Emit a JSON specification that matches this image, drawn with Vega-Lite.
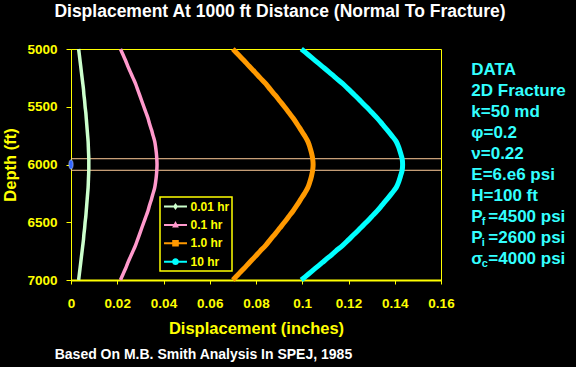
{
"$schema": "https://vega.github.io/schema/vega-lite/v6.json",
"width": 370, "height": 231,
"autosize": {"type": "none"},
"padding": {"left": 71, "top": 49, "right": 135, "bottom": 87},
"background": "#000000",
"title": {"text": "Displacement At 1000 ft Distance (Normal To Fracture)", "color": "#ffffff", "font": "Liberation Sans", "fontSize": 17.5, "fontWeight": "bold", "anchor": "middle", "frame": "group", "dx": 24, "offset": 19},
"config": {
  "view": {"stroke": "#ffff00", "strokeWidth": 1},
  "axis": {"domainColor": "#ffff00", "tickColor": "#ffff00", "labelColor": "#ffff00", "titleColor": "#ffff00", "labelFont": "Liberation Sans", "titleFont": "Liberation Sans", "labelFontWeight": "bold", "titleFontWeight": "bold", "labelFontSize": 13.5, "titleFontSize": 16.5, "grid": false, "tickSize": 4, "labelFlush": false, "labelOverlap": false, "labelBound": false},
  "axisX": {"domainWidth": 2, "labelPadding": 12, "titlePadding": 11},
  "axisY": {"labelPadding": 9, "titlePadding": 8, "tickSize": 5},
  "legend": {"labelColor": "#ffff00", "labelFont": "Liberation Sans", "labelFontWeight": "bold", "labelFontSize": 12, "fillColor": "#000000", "strokeColor": "#ffff00", "strokeWidth": 1.5, "padding": 2.5, "symbolSize": 196, "symbolStrokeWidth": 0, "rowPadding": 5.4, "labelOffset": 8, "symbolOffset": 6, "symbolOpacity": 1}
},
"datasets": {
"curves": [
{"s":"0.01 hr","z":5000,"d":0.0033},{"s":"0.01 hr","z":5050,"d":0.0036},{"s":"0.01 hr","z":5100,"d":0.0039},{"s":"0.01 hr","z":5150,"d":0.0042},{"s":"0.01 hr","z":5200,"d":0.0045},{"s":"0.01 hr","z":5250,"d":0.0048},{"s":"0.01 hr","z":5300,"d":0.0051},{"s":"0.01 hr","z":5350,"d":0.0054},{"s":"0.01 hr","z":5400,"d":0.0056},{"s":"0.01 hr","z":5450,"d":0.0059},{"s":"0.01 hr","z":5500,"d":0.0061},{"s":"0.01 hr","z":5550,"d":0.0064},{"s":"0.01 hr","z":5600,"d":0.0066},{"s":"0.01 hr","z":5650,"d":0.0068},{"s":"0.01 hr","z":5700,"d":0.0070},{"s":"0.01 hr","z":5750,"d":0.0072},{"s":"0.01 hr","z":5800,"d":0.0074},{"s":"0.01 hr","z":5850,"d":0.0075},{"s":"0.01 hr","z":5900,"d":0.0076},{"s":"0.01 hr","z":5950,"d":0.0077},{"s":"0.01 hr","z":6000,"d":0.0077},{"s":"0.01 hr","z":6050,"d":0.0077},{"s":"0.01 hr","z":6100,"d":0.0076},{"s":"0.01 hr","z":6150,"d":0.0075},{"s":"0.01 hr","z":6200,"d":0.0074},{"s":"0.01 hr","z":6250,"d":0.0072},{"s":"0.01 hr","z":6300,"d":0.0070},{"s":"0.01 hr","z":6350,"d":0.0068},{"s":"0.01 hr","z":6400,"d":0.0066},{"s":"0.01 hr","z":6450,"d":0.0064},{"s":"0.01 hr","z":6500,"d":0.0061},{"s":"0.01 hr","z":6550,"d":0.0059},{"s":"0.01 hr","z":6600,"d":0.0056},{"s":"0.01 hr","z":6650,"d":0.0054},{"s":"0.01 hr","z":6700,"d":0.0051},{"s":"0.01 hr","z":6750,"d":0.0048},{"s":"0.01 hr","z":6800,"d":0.0045},{"s":"0.01 hr","z":6850,"d":0.0042},{"s":"0.01 hr","z":6900,"d":0.0039},{"s":"0.01 hr","z":6950,"d":0.0036},{"s":"0.01 hr","z":7000,"d":0.0033},
{"s":"0.1 hr","z":5000,"d":0.0214},{"s":"0.1 hr","z":5050,"d":0.0225},{"s":"0.1 hr","z":5100,"d":0.0236},{"s":"0.1 hr","z":5150,"d":0.0246},{"s":"0.1 hr","z":5200,"d":0.0257},{"s":"0.1 hr","z":5250,"d":0.0268},{"s":"0.1 hr","z":5300,"d":0.0279},{"s":"0.1 hr","z":5350,"d":0.0288},{"s":"0.1 hr","z":5400,"d":0.0297},{"s":"0.1 hr","z":5450,"d":0.0306},{"s":"0.1 hr","z":5500,"d":0.0315},{"s":"0.1 hr","z":5550,"d":0.0324},{"s":"0.1 hr","z":5600,"d":0.0333},{"s":"0.1 hr","z":5650,"d":0.0340},{"s":"0.1 hr","z":5700,"d":0.0348},{"s":"0.1 hr","z":5750,"d":0.0355},{"s":"0.1 hr","z":5800,"d":0.0362},{"s":"0.1 hr","z":5850,"d":0.0366},{"s":"0.1 hr","z":5900,"d":0.0369},{"s":"0.1 hr","z":5950,"d":0.0371},{"s":"0.1 hr","z":6000,"d":0.0372},{"s":"0.1 hr","z":6050,"d":0.0371},{"s":"0.1 hr","z":6100,"d":0.0369},{"s":"0.1 hr","z":6150,"d":0.0366},{"s":"0.1 hr","z":6200,"d":0.0362},{"s":"0.1 hr","z":6250,"d":0.0355},{"s":"0.1 hr","z":6300,"d":0.0348},{"s":"0.1 hr","z":6350,"d":0.0340},{"s":"0.1 hr","z":6400,"d":0.0333},{"s":"0.1 hr","z":6450,"d":0.0324},{"s":"0.1 hr","z":6500,"d":0.0315},{"s":"0.1 hr","z":6550,"d":0.0306},{"s":"0.1 hr","z":6600,"d":0.0297},{"s":"0.1 hr","z":6650,"d":0.0288},{"s":"0.1 hr","z":6700,"d":0.0279},{"s":"0.1 hr","z":6750,"d":0.0268},{"s":"0.1 hr","z":6800,"d":0.0257},{"s":"0.1 hr","z":6850,"d":0.0246},{"s":"0.1 hr","z":6900,"d":0.0236},{"s":"0.1 hr","z":6950,"d":0.0225},{"s":"0.1 hr","z":7000,"d":0.0214},
{"s":"1.0 hr","z":5000,"d":0.0700},{"s":"1.0 hr","z":5050,"d":0.0724},{"s":"1.0 hr","z":5100,"d":0.0748},{"s":"1.0 hr","z":5150,"d":0.0771},{"s":"1.0 hr","z":5200,"d":0.0795},{"s":"1.0 hr","z":5250,"d":0.0818},{"s":"1.0 hr","z":5300,"d":0.0842},{"s":"1.0 hr","z":5350,"d":0.0862},{"s":"1.0 hr","z":5400,"d":0.0883},{"s":"1.0 hr","z":5450,"d":0.0903},{"s":"1.0 hr","z":5500,"d":0.0923},{"s":"1.0 hr","z":5550,"d":0.0942},{"s":"1.0 hr","z":5600,"d":0.0961},{"s":"1.0 hr","z":5650,"d":0.0978},{"s":"1.0 hr","z":5700,"d":0.0994},{"s":"1.0 hr","z":5750,"d":0.1010},{"s":"1.0 hr","z":5800,"d":0.1024},{"s":"1.0 hr","z":5850,"d":0.1033},{"s":"1.0 hr","z":5900,"d":0.1040},{"s":"1.0 hr","z":5950,"d":0.1045},{"s":"1.0 hr","z":6000,"d":0.1047},{"s":"1.0 hr","z":6050,"d":0.1045},{"s":"1.0 hr","z":6100,"d":0.1040},{"s":"1.0 hr","z":6150,"d":0.1033},{"s":"1.0 hr","z":6200,"d":0.1024},{"s":"1.0 hr","z":6250,"d":0.1010},{"s":"1.0 hr","z":6300,"d":0.0994},{"s":"1.0 hr","z":6350,"d":0.0978},{"s":"1.0 hr","z":6400,"d":0.0961},{"s":"1.0 hr","z":6450,"d":0.0942},{"s":"1.0 hr","z":6500,"d":0.0923},{"s":"1.0 hr","z":6550,"d":0.0903},{"s":"1.0 hr","z":6600,"d":0.0883},{"s":"1.0 hr","z":6650,"d":0.0862},{"s":"1.0 hr","z":6700,"d":0.0842},{"s":"1.0 hr","z":6750,"d":0.0818},{"s":"1.0 hr","z":6800,"d":0.0795},{"s":"1.0 hr","z":6850,"d":0.0771},{"s":"1.0 hr","z":6900,"d":0.0748},{"s":"1.0 hr","z":6950,"d":0.0724},{"s":"1.0 hr","z":7000,"d":0.0700},
{"s":"10 hr","z":5000,"d":0.0996},{"s":"10 hr","z":5050,"d":0.1026},{"s":"10 hr","z":5100,"d":0.1056},{"s":"10 hr","z":5150,"d":0.1086},{"s":"10 hr","z":5200,"d":0.1116},{"s":"10 hr","z":5250,"d":0.1145},{"s":"10 hr","z":5300,"d":0.1175},{"s":"10 hr","z":5350,"d":0.1201},{"s":"10 hr","z":5400,"d":0.1227},{"s":"10 hr","z":5450,"d":0.1252},{"s":"10 hr","z":5500,"d":0.1277},{"s":"10 hr","z":5550,"d":0.1301},{"s":"10 hr","z":5600,"d":0.1325},{"s":"10 hr","z":5650,"d":0.1346},{"s":"10 hr","z":5700,"d":0.1367},{"s":"10 hr","z":5750,"d":0.1387},{"s":"10 hr","z":5800,"d":0.1406},{"s":"10 hr","z":5850,"d":0.1417},{"s":"10 hr","z":5900,"d":0.1425},{"s":"10 hr","z":5950,"d":0.1432},{"s":"10 hr","z":6000,"d":0.1434},{"s":"10 hr","z":6050,"d":0.1432},{"s":"10 hr","z":6100,"d":0.1425},{"s":"10 hr","z":6150,"d":0.1417},{"s":"10 hr","z":6200,"d":0.1406},{"s":"10 hr","z":6250,"d":0.1387},{"s":"10 hr","z":6300,"d":0.1367},{"s":"10 hr","z":6350,"d":0.1346},{"s":"10 hr","z":6400,"d":0.1325},{"s":"10 hr","z":6450,"d":0.1301},{"s":"10 hr","z":6500,"d":0.1277},{"s":"10 hr","z":6550,"d":0.1252},{"s":"10 hr","z":6600,"d":0.1227},{"s":"10 hr","z":6650,"d":0.1201},{"s":"10 hr","z":6700,"d":0.1175},{"s":"10 hr","z":6750,"d":0.1145},{"s":"10 hr","z":6800,"d":0.1116},{"s":"10 hr","z":6850,"d":0.1086},{"s":"10 hr","z":6900,"d":0.1056},{"s":"10 hr","z":6950,"d":0.1026},{"s":"10 hr","z":7000,"d":0.0996}
],
"notes": [
{"part":"main","line":0,"text":"DATA"},{"part":"main","line":1,"text":"2D Fracture"},{"part":"main","line":2,"text":"k=50 md"},{"part":"main","line":3,"text":"φ=0.2"},{"part":"main","line":4,"text":"ν=0.22"},{"part":"main","line":5,"text":"E=6.e6 psi"},{"part":"main","line":6,"text":"H=100 ft"},{"part":"main","line":7,"text":"P"},{"part":"main","line":8,"text":"P"},{"part":"main","line":9,"text":"σ"},
{"part":"sub","line":7,"text":"f"},{"part":"sub","line":8,"text":"i"},{"part":"sub","line":9,"text":"c"},
{"part":"rest","line":7,"text":"=4500 psi"},{"part":"rest","line":8,"text":"=2600 psi"},{"part":"rest","line":9,"text":"=4000 psi"}
]
},
"resolve": {"scale": {"y": "independent"}},
"layer": [
{"data": {"values": [{"z": 5950}, {"z": 6050}]},
 "mark": {"type": "rule", "color": "#ffcc99", "strokeWidth": 1},
 "encoding": {"y": {"field": "z", "type": "quantitative", "scale": {"domain": [5000, 7000], "reverse": true, "nice": false, "zero": false}, "axis": null}}},
{"data": {"name": "curves"},
 "transform": [{"filter": "datum.s === '0.01 hr'"}],
 "mark": {"type": "line", "interpolate": "cardinal", "color": "#ccffcc", "strokeWidth": 3.5},
 "encoding": {
  "x": {"field": "d", "type": "quantitative", "scale": {"domain": [0, 0.16], "nice": false}, "axis": {"title": "Displacement (inches)", "values": [0, 0.02, 0.04, 0.06, 0.08, 0.1, 0.12, 0.14, 0.16], "format": "~g"}},
  "y": {"field": "z", "type": "quantitative", "scale": {"domain": [5000, 7000], "reverse": true, "nice": false, "zero": false}, "axis": {"title": "Depth (ft)", "values": [5000, 5500, 6000, 6500, 7000], "format": "d"}},
  "order": {"field": "z", "type": "quantitative"}}},
{"data": {"name": "curves"},
 "transform": [{"filter": "datum.s === '0.1 hr'"}],
 "mark": {"type": "line", "interpolate": "cardinal", "color": "#ff99cc", "strokeWidth": 3.5},
 "encoding": {
  "x": {"field": "d", "type": "quantitative", "scale": {"domain": [0, 0.16], "nice": false}},
  "y": {"field": "z", "type": "quantitative", "scale": {"domain": [5000, 7000], "reverse": true, "nice": false, "zero": false}, "axis": null},
  "order": {"field": "z", "type": "quantitative"}}},
{"data": {"name": "curves"},
 "transform": [{"filter": "datum.s === '1.0 hr'"}],
 "mark": {"type": "line", "interpolate": "cardinal", "color": "#ff9900", "strokeWidth": 5},
 "encoding": {
  "x": {"field": "d", "type": "quantitative", "scale": {"domain": [0, 0.16], "nice": false}},
  "y": {"field": "z", "type": "quantitative", "scale": {"domain": [5000, 7000], "reverse": true, "nice": false, "zero": false}, "axis": null},
  "order": {"field": "z", "type": "quantitative"}}},
{"data": {"name": "curves"},
 "transform": [{"filter": "datum.s === '10 hr'"}],
 "mark": {"type": "line", "interpolate": "cardinal", "color": "#00ffff", "strokeWidth": 5},
 "encoding": {
  "x": {"field": "d", "type": "quantitative", "scale": {"domain": [0, 0.16], "nice": false}},
  "y": {"field": "z", "type": "quantitative", "scale": {"domain": [5000, 7000], "reverse": true, "nice": false, "zero": false}, "axis": null},
  "order": {"field": "z", "type": "quantitative"}}},
{"data": {"name": "curves"},
 "mark": {"type": "point", "filled": true, "opacity": 0},
 "encoding": {
  "x": {"field": "d", "type": "quantitative", "scale": {"domain": [0, 0.16], "nice": false}},
  "y": {"field": "z", "type": "quantitative", "scale": {"domain": [5000, 7000], "reverse": true, "nice": false, "zero": false}, "axis": null},
  "color": {"field": "s", "type": "nominal", "scale": {"domain": ["0.01 hr", "0.1 hr", "1.0 hr", "10 hr"], "range": ["#ccffcc", "#ff99cc", "#ff9900", "#00ffff"]}, "legend": {"title": null, "orient": "none", "legendX": 89, "legendY": 148, "symbolOpacity": 1}},
  "shape": {"field": "s", "type": "nominal", "scale": {"domain": ["0.01 hr", "0.1 hr", "1.0 hr", "10 hr"], "range": [
    "M-1.64,-0.14H1.64V0.14H-1.64Z M0,-0.5L0.36,0L0,0.5L-0.36,0Z",
    "M-1.64,-0.14H1.64V0.14H-1.64Z M0,-0.57L0.48,0.38L-0.48,0.38Z",
    "M-1.64,-0.14H1.64V0.14H-1.64Z M-0.47,-0.47H0.47V0.47H-0.47Z",
    "M-1.64,-0.14H1.64V0.14H-1.64Z M0.48,0A0.48,0.48 0 1,1 -0.48,0A0.48,0.48 0 1,1 0.48,0Z"]}, "legend": {"title": null, "orient": "none", "legendX": 89, "legendY": 148, "symbolOpacity": 1}}}},
{"data": {"values": [{"d": 0, "z": 6000}]},
 "mark": {"type": "point", "shape": "M0,-1C0.6,-1 0.6,1 0,1C-0.6,1 -0.6,-1 0,-1Z", "size": 90, "filled": true, "fill": "#3366ff", "stroke": "#bbccff", "strokeWidth": 0.6, "opacity": 1},
 "encoding": {
  "x": {"field": "d", "type": "quantitative", "scale": {"domain": [0, 0.16], "nice": false}},
  "y": {"field": "z", "type": "quantitative", "scale": {"domain": [5000, 7000], "reverse": true, "nice": false, "zero": false}, "axis": null}}},
{"data": {"name": "notes"},
 "transform": [{"filter": "datum.part === 'main'"}],
 "mark": {"type": "text", "align": "left", "baseline": "middle", "font": "Liberation Sans", "fontSize": 17, "fontWeight": "bold", "color": "#33ffff"},
 "encoding": {
  "x": {"datum": 0.1731, "type": "quantitative", "scale": {"domain": [0, 0.16], "nice": false}},
  "y": {"field": "line", "type": "ordinal", "scale": {"type": "point", "domain": [0,1,2,3,4,5,6,7,8,9], "padding": 1}, "axis": null},
  "text": {"field": "text"}}},
{"data": {"name": "notes"},
 "transform": [{"filter": "datum.part === 'sub'"}],
 "mark": {"type": "text", "align": "left", "baseline": "middle", "font": "Liberation Sans", "fontSize": 11, "fontWeight": "bold", "color": "#33ffff", "dx": 10.5, "dy": 5},
 "encoding": {
  "x": {"datum": 0.1731, "type": "quantitative", "scale": {"domain": [0, 0.16], "nice": false}},
  "y": {"field": "line", "type": "ordinal", "scale": {"type": "point", "domain": [0,1,2,3,4,5,6,7,8,9], "padding": 1}, "axis": null},
  "text": {"field": "text"}}},
{"data": {"name": "notes"},
 "transform": [{"filter": "datum.part === 'rest'"}],
 "mark": {"type": "text", "align": "left", "baseline": "middle", "font": "Liberation Sans", "fontSize": 17, "fontWeight": "bold", "color": "#33ffff", "dx": 17},
 "encoding": {
  "x": {"datum": 0.1731, "type": "quantitative", "scale": {"domain": [0, 0.16], "nice": false}},
  "y": {"field": "line", "type": "ordinal", "scale": {"type": "point", "domain": [0,1,2,3,4,5,6,7,8,9], "padding": 1}, "axis": null},
  "text": {"field": "text"}}},
{"data": {"values": [{"text": "Based On M.B. Smith Analysis In SPEJ, 1985"}]},
 "mark": {"type": "text", "align": "left", "baseline": "alphabetic", "font": "Liberation Sans", "fontSize": 14, "fontWeight": "bold", "color": "#ffffff"},
 "encoding": {
  "x": {"datum": -0.00705, "type": "quantitative", "scale": {"domain": [0, 0.16], "nice": false}},
  "y": {"datum": 7685, "type": "quantitative", "scale": {"domain": [5000, 7000], "reverse": true, "nice": false, "zero": false}, "axis": null},
  "text": {"field": "text"}}}
]
}
